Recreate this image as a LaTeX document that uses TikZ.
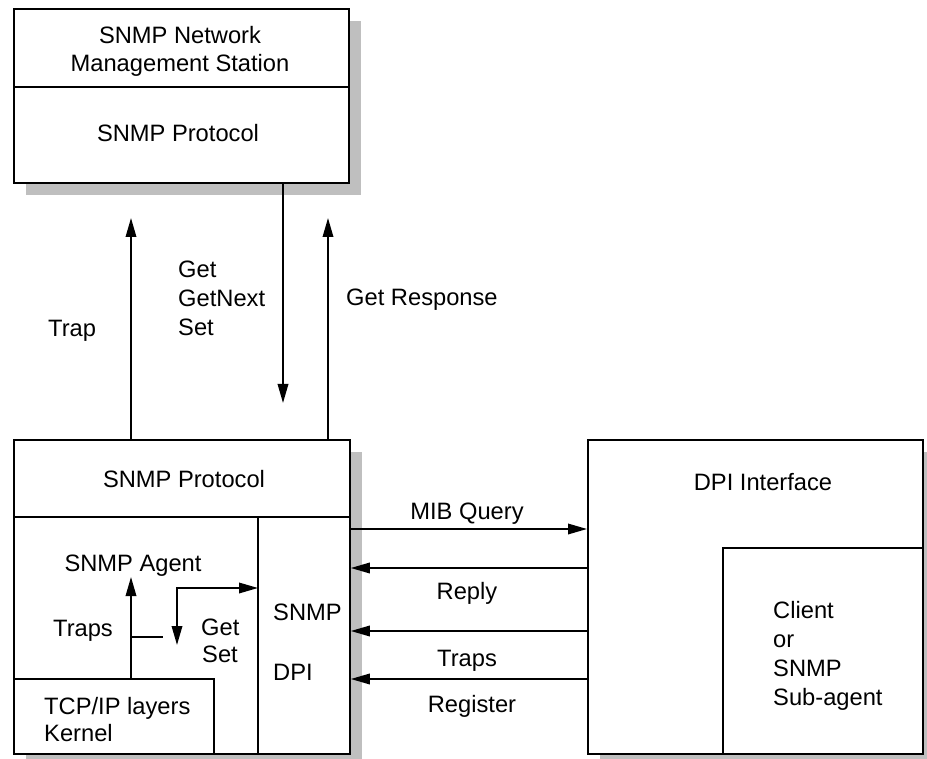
\documentclass[tikz,border=0pt]{standalone}
\usepackage{fontspec}
\setmainfont{Liberation Sans}
\usetikzlibrary{arrows.meta,shadows}
\begin{document}
\begin{tikzpicture}[x=1pt,y=-1pt,
  box/.style={draw=black, line width=1.8pt, fill=white, inner sep=0pt, anchor=north west},
  shadowed/.style={drop shadow={shadow xshift=12pt, shadow yshift=-12pt, fill=black!25, opacity=1}},
  lbl/.style={font=\fontsize{23.7}{28}\selectfont, inner sep=0pt},
  tipx/.tip={Triangle[length=19pt,width=10.5pt]},
  arr/.style={line width=1.8pt, -tipx},
  rule/.style={line width=1.8pt}]
\useasboundingbox (0,0) rectangle (927,759);

% boxes
\node[box, shadowed, minimum width=335pt, minimum height=174pt] (nms) at (13,8) {};
\node[box, shadowed, minimum width=336pt, minimum height=314pt] (agent) at (13,439) {};
\node[box, shadowed, minimum width=335pt, minimum height=314pt] (dpi) at (587,439) {};
\node[box, minimum width=200pt, minimum height=206pt] (client) at (722,547) {};
\node[box, minimum width=200pt, minimum height=75pt] (tcp) at (13,678) {};

% dividers
\draw[rule] (nms.west |- 0,87) -- (nms.east |- 0,87);
\draw[rule] (agent.west |- 0,517) -- (agent.east |- 0,517);
\draw[rule] (258,517) -- (agent.south -| 258,0);

% texts in boxes
\node[lbl, anchor=base] (t1) at (180,43.5) {SNMP Network};
\node[lbl, anchor=base] (t2) at (180,71.5) {Management Station};
\node[lbl, anchor=base] (t3) at (178,141.5) {SNMP Protocol};
\node[lbl, anchor=base] (t4) at (184,487.5) {SNMP Protocol};
\node[lbl, anchor=base] (t5) at (133,571.5) {SNMP Agent};
\node[lbl, anchor=base] (t6) at (83,636.5) {Traps};
\node[lbl, anchor=base west] (t7) at (201,635.5) {Get};
\node[lbl, anchor=base west] (t8) at (202,662.5) {Set};
\node[lbl, anchor=base west] (t9) at (273,620.5) {SNMP};
\node[lbl, anchor=base west] (t10) at (273,680.5) {DPI};
\node[lbl, anchor=base west] (t11) at (44,714.5) {TCP/IP layers};
\node[lbl, anchor=base west] (t12) at (44,741.5) {Kernel};
\node[lbl, anchor=base] (t13) at (763,490) {DPI Interface};
\node[lbl, anchor=base west] (t14) at (773,618) {Client};
\node[lbl, anchor=base west] (t15) at (773,647) {or};
\node[lbl, anchor=base west] (t16) at (773,676) {SNMP};
\node[lbl, anchor=base west] (t17) at (773,705) {Sub-agent};

% labels of connectors
\node[lbl, anchor=base west] (g1) at (178,277.5) {Get};
\node[lbl, anchor=base west] (g2) at (178,306.5) {GetNext};
\node[lbl, anchor=base west] (g3) at (178,335.5) {Set};
\node[lbl, anchor=base west] (gr) at (346,305.5) {Get Response};
\node[lbl, anchor=base west] (tr) at (48,336.5) {Trap};
\node[lbl, anchor=base] (mq) at (467,519) {MIB Query};
\node[lbl, anchor=base] (rp) at (467,599) {Reply};
\node[lbl, anchor=base] (tp) at (467,666) {Traps};
\node[lbl, anchor=base] (rg) at (472,712) {Register};

% vertical connectors
\coordinate (trapend) at (131,218);
\coordinate (getend) at (283,403);
\coordinate (respend) at (328,218);
\draw[arr] (agent.north -| trapend) -- (trapend);
\draw[arr] (nms.south -| getend) -- (getend);
\draw[arr] (agent.north -| respend) -- (respend);

% horizontal connectors
\draw[arr] (agent.east |- 0,529) -- (dpi.west |- 0,529);
\draw[arr] (dpi.west |- 0,568) -- (agent.east |- 0,568);
\draw[arr] (dpi.west |- 0,631) -- (agent.east |- 0,631);
\draw[arr] (dpi.west |- 0,679) -- (agent.east |- 0,679);

% inside the agent
\coordinate (upend) at (131,577);
\draw[arr] (tcp.north -| upend) -- (upend);
\coordinate (tickend) at (163,637);
\draw[rule] (upend |- tickend) -- (tickend);
\coordinate (downend) at (177,645);
\coordinate (rightend) at (258,588);
\draw[rule, tipx-tipx] (downend) |- (rightend);
\end{tikzpicture}
\end{document}
